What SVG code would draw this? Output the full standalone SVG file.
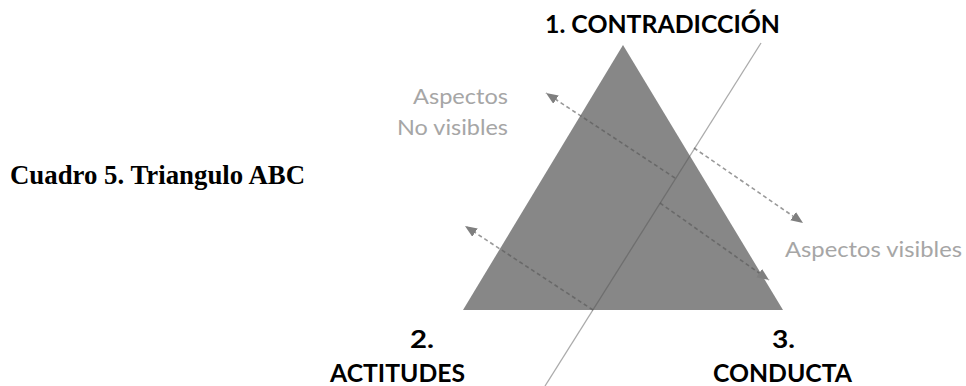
<svg xmlns="http://www.w3.org/2000/svg" width="966" height="386" viewBox="0 0 966 386">
<style>
.lbl{font-family:Lato,"Open Sans","Liberation Sans",sans-serif;font-weight:bold;fill:#000;font-size:24px}
.asp{font-family:Lato,"Open Sans","Liberation Sans",sans-serif;fill:#a6a6a6;font-size:22px}
.cap{font-family:"Liberation Serif","Times New Roman",serif;font-weight:bold;fill:#000}
.dash{stroke:#555;stroke-opacity:0.6;stroke-width:1.6;stroke-dasharray:4 3;fill:none}
</style>
<defs>
<marker id="ah" markerUnits="userSpaceOnUse" markerWidth="14" markerHeight="12" refX="12" refY="5" orient="auto">
<path d="M0,0 L12,5 L0,10 Z" fill="#7f7f7f"/>
</marker>
</defs>
<rect width="966" height="386" fill="#fff"/>
<g id="caption"><text class="cap" x="10" y="184" font-size="26.5" textLength="295" lengthAdjust="spacingAndGlyphs">Cuadro 5. Triangulo ABC</text></g>
<g id="triangle"><polygon points="623,45 783,310 463,310" fill="#878787"/></g>
<g id="connectors">
<line x1="761" y1="43" x2="545" y2="386" stroke="#555" stroke-opacity="0.5" stroke-width="1.3"/>
<line class="dash" x1="675" y1="178" x2="546" y2="93" marker-end="url(#ah)"/>
<line class="dash" x1="694" y1="148" x2="803" y2="223" marker-end="url(#ah)"/>
<line class="dash" x1="660" y1="203" x2="769" y2="280" marker-end="url(#ah)"/>
<line class="dash" x1="593" y1="310" x2="465" y2="226" marker-end="url(#ah)"/>
</g>
<g id="n1"><text class="lbl" x="545" y="33" textLength="235" lengthAdjust="spacingAndGlyphs">1. CONTRADICCIÓN</text></g>
<g id="n2"><text class="lbl" x="410" y="348" textLength="24" lengthAdjust="spacingAndGlyphs">2.</text><text class="lbl" x="330" y="382" textLength="135" lengthAdjust="spacingAndGlyphs">ACTITUDES</text></g>
<g id="n3"><text class="lbl" x="772" y="348" textLength="23" lengthAdjust="spacingAndGlyphs">3.</text><text class="lbl" x="713" y="382" textLength="139" lengthAdjust="spacingAndGlyphs">CONDUCTA</text></g>
<g id="aspNo"><text class="asp" x="413" y="104" textLength="95" lengthAdjust="spacingAndGlyphs">Aspectos</text><text class="asp" x="397" y="135" textLength="111" lengthAdjust="spacingAndGlyphs">No visibles</text></g>
<g id="aspVis"><text class="asp" x="785" y="257" textLength="177" lengthAdjust="spacingAndGlyphs">Aspectos visibles</text></g>
</svg>
